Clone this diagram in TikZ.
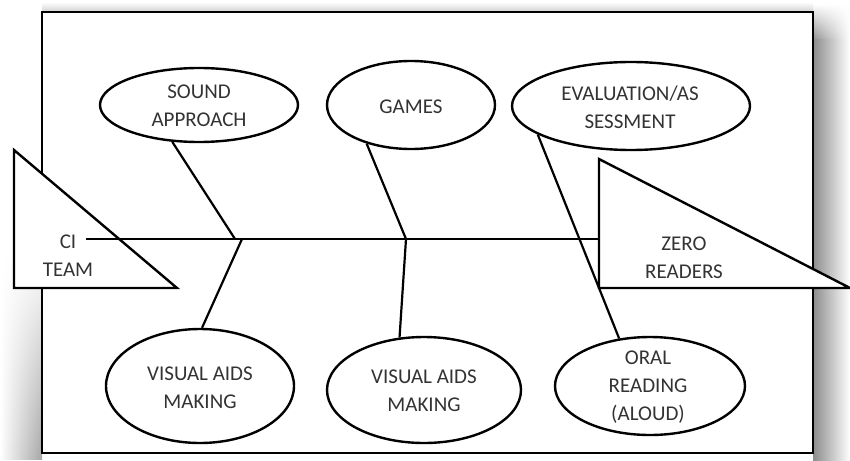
\documentclass[tikz,border=0pt]{standalone}
\usepackage{fontspec}
\setmainfont{Carlito}
\usetikzlibrary{shapes.geometric,fadings}
\definecolor{inkgray}{HTML}{333333}
\begin{document}
\begin{tikzpicture}[x=1pt,y=-1pt,
  lbl/.style={font=\fontsize{21}{28}\selectfont, text=inkgray, align=center, inner sep=0pt},
  oval/.style={ellipse, draw, line width=2.4pt, inner sep=0pt},
  bone/.style={line width=2.2pt},
  wedge/.style={draw, fill=white, line width=2.4pt, line join=miter}]
\useasboundingbox (0,0) rectangle (850,460);

% soft shadow around the frame
\shade[left color=black!45, right color=white] (813,40) rectangle (850,460);
\shade[left color=black!45, right color=white, path fading=north] (813,4) rectangle (850,40.5);
\shade[top color=white, bottom color=black!18] (42,2) rectangle (813,12);
\shade[left color=white, right color=black!35, path fading=north] (0,250) rectangle (42,460);

% frame
\draw[line width=2.6pt, fill=white] (42,12) rectangle (813,453);

% cause ellipses
\node[oval, minimum width=198pt, minimum height=74pt] (sound) at (199,105) {};
\node[oval, minimum width=168pt, minimum height=88pt] (games) at (411,105) {};
\node[oval, minimum width=238pt, minimum height=88pt] (eval)  at (631,106) {};
\node[oval, minimum width=188pt, minimum height=114pt] (vis1) at (200,386) {};
\node[oval, minimum width=194pt, minimum height=106pt] (vis2) at (424,390) {};
\node[oval, minimum width=190pt, minimum height=98pt]  (oral) at (650,386) {};

\node[lbl] (soundtxt) at (199,106) {SOUND\\APPROACH};
\node[lbl] (gamestxt) at (411,107) {GAMES};
\node[lbl] (evaltxt)  at (630,107.5) {EVALUATION/AS\\SESSMENT};
\node[lbl] (vis1txt)  at (200,387.5) {VISUAL AIDS\\MAKING};
\node[lbl] (vis2txt)  at (424,391) {VISUAL AIDS\\MAKING};
\node[lbl] (oraltxt)  at (648,387) {ORAL\\READING\\(ALOUD)};

% junctions on the spine
\coordinate (j1a) at (235,239);
\coordinate (j1b) at (242,239);
\coordinate (j2)  at (406,239);
\coordinate (spineL) at (86,239);
\coordinate (spineR) at (599,239);

% bones
\draw[bone] (sound.234) -- (j1a);
\draw[bone] (j1b) -- (vis1.88);
\draw[bone] (games.221) -- (j2);
\draw[bone] (j2) -- (vis2.115);
\draw[bone] (eval.197) -- (oral.123);

% head and tail
\draw[wedge] (14,150) -- (14,288) -- (177,288) -- cycle;
\draw[wedge] (599,159) -- (599,288) -- (850,288) -- cycle;

% spine
\draw[bone] (spineL) -- (spineR);

\node[lbl] (ci)   at (68,256) {CI\\TEAM};
\node[lbl] (zero) at (684,257.5) {ZERO\\READERS};
\end{tikzpicture}
\end{document}
